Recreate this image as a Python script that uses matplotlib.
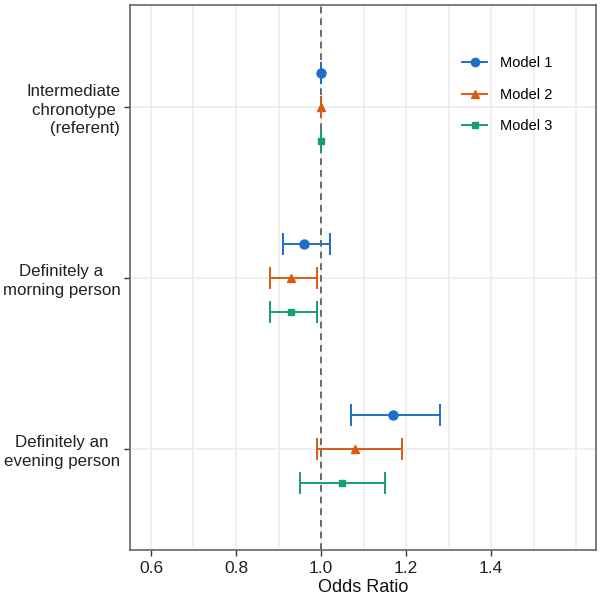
import matplotlib
matplotlib.use("Agg")
import matplotlib.pyplot as plt
from matplotlib.lines import Line2D
import numpy as np

plt.rcParams['font.family'] = ['Liberation Sans', 'DejaVu Sans']

categories = ["Intermediate\nchronotype \n(referent)",
              "Definitely a\nmorning person",
              "Definitely an\nevening person"]
models = ["Model 1", "Model 2", "Model 3"]

# odds ratio, lower CI, upper CI per model, same order as categories
or_model1 = [1.00, 0.96, 1.17]
lo_model1 = [1.00, 0.91, 1.07]
hi_model1 = [1.00, 1.02, 1.28]

or_model2 = [1.00, 0.93, 1.08]
lo_model2 = [1.00, 0.88, 0.99]
hi_model2 = [1.00, 0.99, 1.19]

or_model3 = [1.00, 0.93, 1.05]
lo_model3 = [1.00, 0.88, 0.95]
hi_model3 = [1.00, 0.99, 1.15]

xticks = [0.6, 0.8, 1.0, 1.2, 1.4]
xgrid = [0.6, 0.7, 0.8, 0.9, 1.0, 1.1, 1.2, 1.3, 1.4, 1.5, 1.6]

colors = ["#1F6FC8", "#DA5A12", "#179E72"]
markers = ["o", "^", "s"]
msizes = [6.5, 6, 5]
offsets = [0.2, 0.0, -0.2]

fig = plt.figure(figsize=(6.01, 5.98), dpi=100)
ax = fig.add_axes([130/601, 48/598, 466/601, 545/598])

ypos = np.array([3, 2, 1])

for g in xgrid:
    ax.axvline(g, color="#EBEBEB", lw=1.1, zorder=0)
for y in ypos:
    ax.axhline(y, color="#EBEBEB", lw=1.1, zorder=0)

ax.axvline(1.0, color="#555555", lw=1.2, ls=(0, (4, 3)), zorder=1)

data = [(or_model1, lo_model1, hi_model1),
        (or_model2, lo_model2, hi_model2),
        (or_model3, lo_model3, hi_model3)]
handles = []
for i, (est, lo, hi) in enumerate(data):
    est = np.array(est); lo = np.array(lo); hi = np.array(hi)
    yy = ypos + offsets[i]
    err = np.vstack([est - lo, hi - est])
    ax.errorbar(est, yy, xerr=err, fmt=markers[i], color=colors[i],
                ms=msizes[i], capsize=8, elinewidth=1.4, capthick=1.4,
                zorder=3)
    handles.append(Line2D([], [], color=colors[i], marker=markers[i],
                          ms=msizes[i] - 0.5, lw=1.4, label=models[i]))

ax.set_xlim(0.5506, 1.647)
ax.set_ylim(0.409, 3.596)
ax.set_xticks(xticks)
ax.set_xticklabels([f"{t:.1f}" for t in xticks], fontsize=12.5, color="#222222")
ax.set_yticks(ypos)
ax.set_yticklabels(categories, fontsize=12.2, color="#222222", linespacing=1.3)
for lab, al in zip(ax.get_yticklabels(), ["right", "center", "center"]):
    lab.set_multialignment(al)
ax.tick_params(axis="both", length=4, width=1, color="#333333")
ax.tick_params(axis="x", pad=4)
ax.tick_params(axis="y", pad=3)
ax.set_xlabel("Odds Ratio", fontsize=13, color="#111111", labelpad=2)

for s in ax.spines.values():
    s.set_color("#666666")
    s.set_linewidth(1.2)

leg = ax.legend(handles=handles, loc="upper left", bbox_to_anchor=(0.685, 0.93),
                frameon=False, fontsize=10.5, labelspacing=1.2,
                handlelength=1.7, handletextpad=0.9)

fig.savefig("out.png", dpi=100)
